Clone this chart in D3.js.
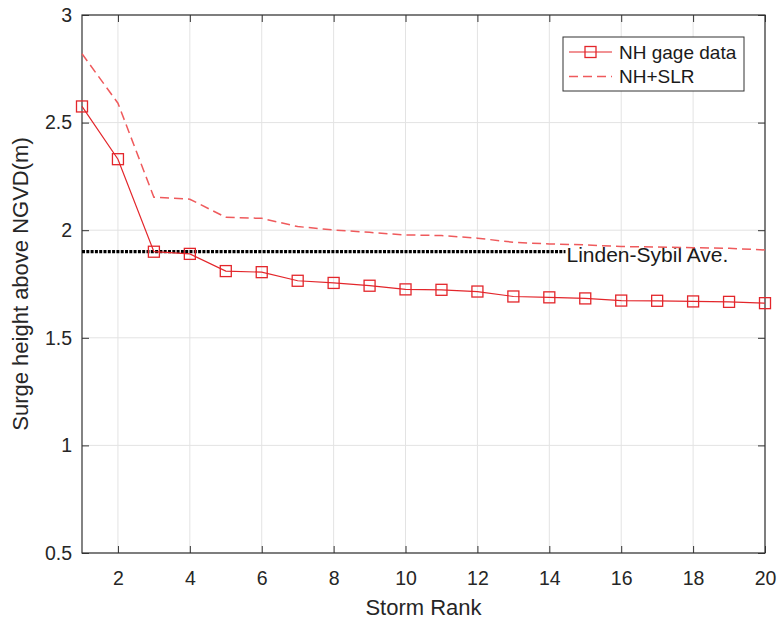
<!DOCTYPE html>
<html><head><meta charset="utf-8">
<script src="https://cdn.jsdelivr.net/npm/d3@7"></script>
<style>body{margin:0;background:#fff}svg{display:block}text{font-family:"Liberation Sans",Arial,sans-serif}</style>
</head><body><svg id="c" width="778" height="619"></svg>
<script>
const ranks = d3.range(1, 21);
const nhGage = [2.575, 2.33, 1.90, 1.89, 1.81, 1.805, 1.765, 1.755, 1.742, 1.725, 1.723, 1.715, 1.692, 1.688, 1.683, 1.673, 1.672, 1.669, 1.667, 1.661];
const nhSLR  = [2.82, 2.59, 2.153, 2.144, 2.06, 2.055, 2.017, 2.001, 1.99, 1.978, 1.975, 1.963, 1.944, 1.936, 1.932, 1.924, 1.922, 1.919, 1.916, 1.908];
const refLevel = 1.90, refEndRank = 14.45, refLabel = "Linden-Sybil Ave.";
const xTicks = [2,4,6,8,10,12,14,16,18,20];
const yTicks = [0.5,1,1.5,2,2.5,3];
const seriesNames = ["NH gage data", "NH+SLR"];

const svg = d3.select("#c");
const L = 82, R = 765, T = 15, B = 553;
const x = d3.scaleLinear().domain([1,20]).range([L,R]);
const y = d3.scaleLinear().domain([0.5,3]).range([B,T]);
const axisCol = "#333", red = "#e3262b", redDash = "#ef5a5c";

// grid
const g = svg.append("g");
g.selectAll(".gx").data(xTicks).join("line").attr("x1",d=>x(d)).attr("x2",d=>x(d)).attr("y1",T).attr("y2",B).attr("stroke","#e3e3e3").attr("stroke-width",1);
g.selectAll(".gy").data(yTicks).join("line").attr("y1",d=>y(d)).attr("y2",d=>y(d)).attr("x1",L).attr("x2",R).attr("stroke","#e3e3e3").attr("stroke-width",1);

// axes
const tl = 7;
const ax = svg.append("g").attr("transform",`translate(0,${B})`).call(d3.axisBottom(x).tickValues(xTicks).tickSize(-tl).tickPadding(18).tickFormat(d3.format("d")));
const axT = svg.append("g").attr("transform",`translate(0,${T})`).call(d3.axisTop(x).tickValues(xTicks).tickSize(-tl).tickFormat(""));
const ay = svg.append("g").attr("transform",`translate(${L},0)`).call(d3.axisLeft(y).tickValues(yTicks).tickSize(-tl).tickPadding(10).tickFormat(d=>String(d)));
const ayR = svg.append("g").attr("transform",`translate(${R},0)`).call(d3.axisRight(y).tickValues(yTicks).tickSize(-tl).tickFormat(""));
[ax,axT,ay,ayR].forEach(a=>{
  a.select(".domain").remove();
  a.selectAll(".tick line").attr("stroke",axisCol).attr("stroke-width",1);
  a.selectAll(".tick text").attr("fill","#262626").style("font-size","19.5px");
});
svg.append("rect").attr("x",L).attr("y",T).attr("width",R-L).attr("height",B-T).attr("fill","none").attr("stroke",axisCol).attr("stroke-width",1.2);

// reference line
svg.append("line").attr("x1",x(1)).attr("x2",x(refEndRank)).attr("y1",y(refLevel)).attr("y2",y(refLevel))
  .attr("stroke","#000").attr("stroke-width",3.2).attr("stroke-dasharray","3,1.3");
svg.append("text").attr("x",x(refEndRank)+1).attr("y",y(refLevel)+10).attr("fill","#1a1a1a").style("font-size","21px").text(refLabel);

// series
const line = d3.line().x((d,i)=>x(ranks[i])).y(d=>y(d));
svg.append("path").datum(nhSLR).attr("d",line).attr("fill","none").attr("stroke",redDash).attr("stroke-width",1.5).attr("stroke-dasharray","9,5");
svg.append("path").datum(nhGage).attr("d",line).attr("fill","none").attr("stroke",red).attr("stroke-width",1.2);
const ms = 11;
svg.selectAll(".m").data(nhGage).join("rect").attr("x",(d,i)=>x(ranks[i])-ms/2).attr("y",d=>y(d)-ms/2).attr("width",ms).attr("height",ms)
  .attr("fill","none").attr("stroke",red).attr("stroke-width",1.3);

// legend
const lg = svg.append("g");
lg.append("rect").attr("x",563).attr("y",37).attr("width",181).attr("height",54).attr("fill","#fff").attr("stroke","#333").attr("stroke-width",1);
const rows = [52, 76.5];
lg.append("line").attr("x1",569).attr("x2",612).attr("y1",rows[0]).attr("y2",rows[0]).attr("stroke",red).attr("stroke-width",1.2);
lg.append("rect").attr("x",590.5-ms/2).attr("y",rows[0]-ms/2).attr("width",ms).attr("height",ms).attr("fill","none").attr("stroke",red).attr("stroke-width",1.3);
lg.append("line").attr("x1",569).attr("x2",612).attr("y1",rows[1]).attr("y2",rows[1]).attr("stroke",redDash).attr("stroke-width",1.5).attr("stroke-dasharray","9,5");
lg.selectAll(".lt").data(seriesNames).join("text").attr("x",619).attr("y",(d,i)=>rows[i]+6.5).attr("fill","#1a1a1a").style("font-size","19px").text(d=>d);

// axis labels
svg.append("text").attr("x",(L+R)/2).attr("y",615).attr("text-anchor","middle").attr("fill","#262626").style("font-size","22px").text("Storm Rank");
svg.append("text").attr("transform",`translate(28,${(T+B)/2}) rotate(-90)`).attr("text-anchor","middle").attr("fill","#262626").style("font-size","22px").text("Surge height above NGVD(m)");
</script></body></html>
